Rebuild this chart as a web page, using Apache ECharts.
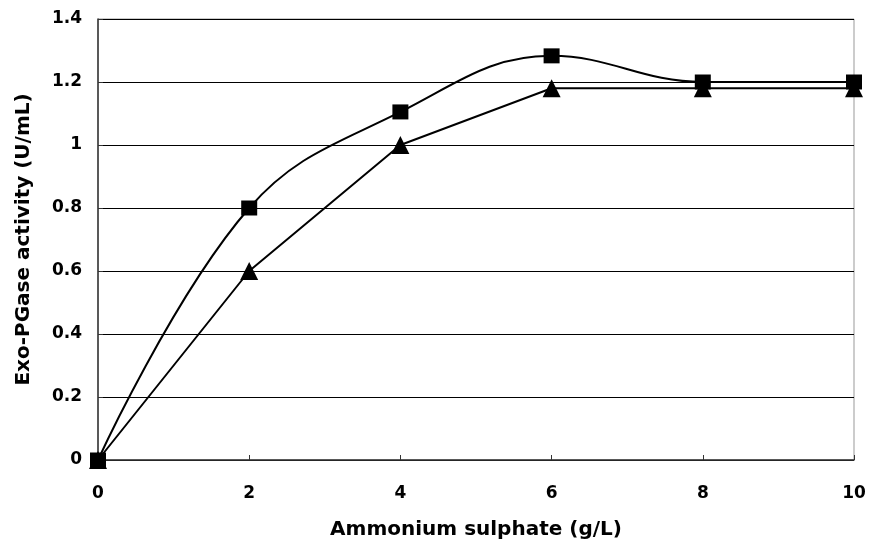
<!DOCTYPE html>
<html>
<head>
<meta charset="utf-8">
<script src="https://cdn.jsdelivr.net/npm/echarts@6/dist/echarts.min.js"></script>
<style>
  html, body { margin: 0; padding: 0; background: #fff; }
  #chart { width: 871px; height: 548px; }
</style>
</head>
<body>
<div id="chart"></div>
<script>
// data
const xValues = [0, 2, 4, 6, 8, 10]
const squareValues = [0, 0.8, 1.105, 1.283, 1.2, 1.2]
const triangleValues = [0, 0.6, 1.0, 1.18, 1.18, 1.18]

const pairs = (ys) => xValues.map((x, i) => [x, ys[i]])
const font = 'DejaVu Sans, Arial, sans-serif'

const myChart = echarts.init(document.getElementById('chart'))
myChart.setOption({
  animation: false,
  backgroundColor: '#fff',
  grid: {
    left: 98, right: 17, top: 19, bottom: 88,
    show: true, borderColor: '#999', borderWidth: 1
  },
  xAxis: {
    type: 'value', min: 0, max: 10, interval: 2,
    name: 'Ammonium sulphate (g/L)',
    nameLocation: 'middle', nameGap: 60,
    nameTextStyle: { fontFamily: font, fontWeight: 'bold', fontSize: 20, color: '#000' },
    axisLine: { lineStyle: { color: '#333', width: 1.5 } },
    axisTick: { inside: true, length: 5, lineStyle: { color: '#333' } },
    axisLabel: { fontFamily: font, fontWeight: 'bold', fontSize: 17, color: '#000', margin: 25 },
    splitLine: { show: false }
  },
  yAxis: {
    type: 'value', min: 0, max: 1.4, interval: 0.2,
    name: 'Exo-PGase activity (U/mL)',
    nameLocation: 'middle', nameGap: 64,
    nameTextStyle: { fontFamily: font, fontWeight: 'bold', fontSize: 20, color: '#000' },
    axisLine: { show: true, lineStyle: { color: '#333', width: 1.5 } },
    axisTick: { show: true, inside: true, length: 5, lineStyle: { color: '#333' } },
    axisLabel: { fontFamily: font, fontWeight: 'bold', fontSize: 17, color: '#000', margin: 16 },
    splitLine: { lineStyle: { color: '#000', width: 1 } }
  },
  series: [
    {
      type: 'line', data: pairs(squareValues), smooth: 0.4,
      symbol: 'rect', symbolSize: [16, 15],
      lineStyle: { color: '#000', width: 2 },
      itemStyle: { color: '#000' }
    },
    {
      type: 'line', data: pairs(triangleValues),
      symbol: 'triangle', symbolSize: 18,
      lineStyle: { color: '#000', width: 2 },
      itemStyle: { color: '#000' }
    }
  ]
})
</script>
</body>
</html>
